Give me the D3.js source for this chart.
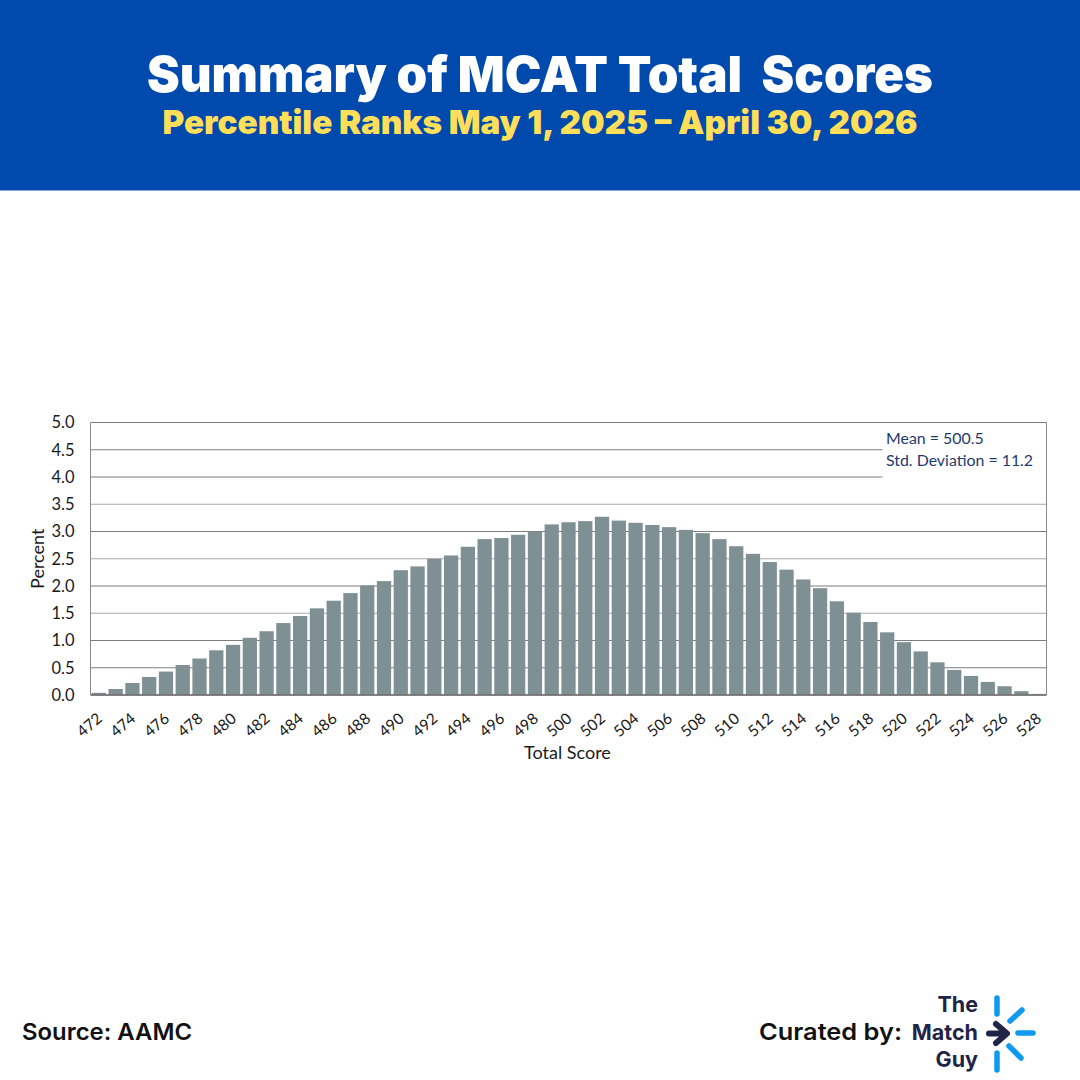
<!DOCTYPE html>
<html>
<head>
<meta charset="utf-8">
<script src="https://cdn.jsdelivr.net/npm/d3@7"></script>
<style>
  html, body { margin: 0; padding: 0; background: #fff; }
  svg { display: block; }
  text { font-family: Lato, sans-serif; }
  .head { font-family: Inter, sans-serif; }
</style>
</head>
<body>
<svg id="chart" width="1080" height="1080"></svg>
<script>
var scores = d3.range(472, 529);
var percents = [
  0.04, 0.11, 0.22, 0.33, 0.43, 0.55, 0.67, 0.82, 0.92, 1.05,
  1.17, 1.32, 1.45, 1.59, 1.73, 1.87, 2.01, 2.09, 2.29, 2.36,
  2.50, 2.56, 2.72, 2.86, 2.88, 2.94, 3.00, 3.13, 3.17, 3.19,
  3.27, 3.20, 3.16, 3.12, 3.08, 3.03, 2.97, 2.86, 2.73, 2.59,
  2.44, 2.30, 2.12, 1.96, 1.72, 1.51, 1.34, 1.15, 0.97, 0.80,
  0.60, 0.46, 0.35, 0.24, 0.16, 0.07, 0.02
];
var yTicks = [0, 0.5, 1, 1.5, 2, 2.5, 3, 3.5, 4, 4.5, 5];
var xTicks = scores.filter(function(s){ return s % 2 === 0; });
var statLines = ['Mean = 500.5', 'Std. Deviation = 11.2'];

var svg = d3.select('#chart');
var plotLeft = 90.5, plotRight = 1046.5, plotTop = 422.5, plotBottom = 695;

// header band
svg.append('rect').attr('width', 1080).attr('height', 190.5).attr('fill', '#004aad');
svg.append('text').attr('class', 'head')
  .attr('x', 540).attr('y', 92)
  .attr('text-anchor', 'middle')
  .attr('textLength', 786).attr('lengthAdjust', 'spacingAndGlyphs')
  .style('font-size', '50px').style('font-weight', 900)
  .attr('fill', '#fff')
  .attr('xml:space', 'preserve')
  .text('Summary of MCAT Total  Scores');
svg.append('text').attr('class', 'head')
  .attr('x', 540).attr('y', 134)
  .attr('text-anchor', 'middle')
  .attr('textLength', 755).attr('lengthAdjust', 'spacingAndGlyphs')
  .style('font-size', '33px').style('font-weight', 900)
  .attr('fill', '#ffde59')
  .text('Percentile Ranks May 1, 2025 – April 30, 2026');

var x = d3.scaleBand().domain(scores).range([plotLeft, plotRight]).paddingInner(0.15).paddingOuter(0.075);
var y = d3.scaleLinear().domain([0, 5]).range([plotBottom, plotTop]);

// grid
svg.append('g').selectAll('line')
  .data(yTicks)
  .enter()
  .append('line')
  .attr('x1', plotLeft).attr('x2', plotRight)
  .attr('y1', function(d){ return y(d); })
  .attr('y2', function(d){ return y(d); })
  .attr('stroke', function(d){ return d === 3.5 || d === 2.5 || d === 1.5 ? '#a9a9a9' : '#7d7d7d'; })
  .attr('stroke-width', 1);

// white patch behind the stats, the gridlines stop at it
svg.append('rect')
  .attr('x', 882.5).attr('y', plotTop + 1)
  .attr('width', plotRight - 883).attr('height', y(3.5) - plotTop - 4)
  .attr('fill', '#fff');

svg.append('g').selectAll('rect')
  .data(percents)
  .enter()
  .append('rect')
  .attr('x', function(d, i){ return x(scores[i]); })
  .attr('y', function(d){ return y(d); })
  .attr('width', x.bandwidth())
  .attr('height', function(d){ return plotBottom - y(d); })
  .attr('fill', '#7f9095');

// plot frame
svg.append('line').attr('x1', plotLeft).attr('x2', plotLeft).attr('y1', plotTop).attr('y2', plotBottom).attr('stroke', '#8a8a8a');
svg.append('line').attr('x1', plotRight).attr('x2', plotRight).attr('y1', plotTop).attr('y2', plotBottom).attr('stroke', '#8a8a8a');
svg.append('line').attr('x1', plotLeft).attr('x2', plotRight).attr('y1', plotBottom).attr('y2', plotBottom).attr('stroke', '#6f6f6f').attr('stroke-width', 1.5);

var yAxis = d3.axisLeft(y).tickValues(yTicks).tickSize(0).tickPadding(16).tickFormat(d3.format('.1f'));
var yG = svg.append('g').attr('transform', 'translate(' + plotLeft + ',0)').call(yAxis);
yG.select('.domain').remove();
yG.selectAll('text').style('font-size', '16.5px').style('font-family', 'Lato, sans-serif').attr('fill', '#1a1a1a');

var xAxis = d3.axisBottom(x).tickValues(xTicks).tickSize(0).tickPadding(0);
var xG = svg.append('g').attr('transform', 'translate(0,' + plotBottom + ')').call(xAxis);
xG.select('.domain').remove();
xG.selectAll('text')
  .style('font-size', '15.5px').style('font-family', 'Lato, sans-serif')
  .attr('fill', '#1a1a1a')
  .attr('text-anchor', 'middle')
  .attr('dy', 0).attr('y', 0)
  .attr('transform', 'translate(-6,34) rotate(-40)');

svg.append('text')
  .attr('transform', 'translate(44,' + y(2.5) + ') rotate(-90)')
  .attr('text-anchor', 'middle')
  .style('font-size', '18px').attr('fill', '#1a1a1a')
  .text('Percent');
svg.append('text')
  .attr('x', 567.5).attr('y', 759)
  .attr('text-anchor', 'middle')
  .style('font-size', '18px').attr('fill', '#1a1a1a')
  .text('Total Score');

svg.append('g').selectAll('text')
  .data(statLines)
  .enter()
  .append('text')
  .attr('x', 886)
  .attr('y', function(d, i){ return 444 + i * 22; })
  .style('font-size', '15.9px')
  .attr('fill', '#1f3a6e')
  .text(function(d){ return d; });

// footer
svg.append('text').attr('class', 'head')
  .attr('x', 22).attr('y', 1040)
  .attr('textLength', 170).attr('lengthAdjust', 'spacingAndGlyphs')
  .style('font-size', '23px').style('font-weight', 600)
  .attr('fill', '#111')
  .text('Source: AAMC');
svg.append('text').attr('class', 'head')
  .attr('x', 759).attr('y', 1040)
  .attr('textLength', 143).attr('lengthAdjust', 'spacingAndGlyphs')
  .style('font-size', '23px').style('font-weight', 600)
  .attr('fill', '#111')
  .text('Curated by:');

// logo
var logoWords = ['The', 'Match', 'Guy'];
svg.append('g').selectAll('text')
  .data(logoWords)
  .enter()
  .append('text')
  .attr('class', 'head')
  .attr('x', 978)
  .attr('y', function(d, i){ return 1012 + i * 27.5; })
  .attr('text-anchor', 'end')
  .style('font-size', '21.5px').style('font-weight', 700)
  .attr('fill', '#1f2547')
  .text(function(d){ return d; });

var logoDashes = [[997, 998, 997, 1014], [1010, 1021, 1022, 1010], [1018, 1033, 1033, 1033], [1009, 1046, 1021, 1058], [997, 1053, 997, 1070]];
svg.append('g').selectAll('line')
  .data(logoDashes)
  .enter()
  .append('line')
  .attr('x1', function(d){ return d[0]; }).attr('y1', function(d){ return d[1]; })
  .attr('x2', function(d){ return d[2]; }).attr('y2', function(d){ return d[3]; })
  .attr('stroke', '#0f9af0').attr('stroke-width', 5.5).attr('stroke-linecap', 'round');
svg.append('path')
  .attr('d', 'M989 1033.5H1006M996 1024L1007 1033.5L996 1043')
  .attr('fill', 'none')
  .attr('stroke', '#1f2547').attr('stroke-width', 6)
  .attr('stroke-linecap', 'round').attr('stroke-linejoin', 'round');
</script>
</body>
</html>
